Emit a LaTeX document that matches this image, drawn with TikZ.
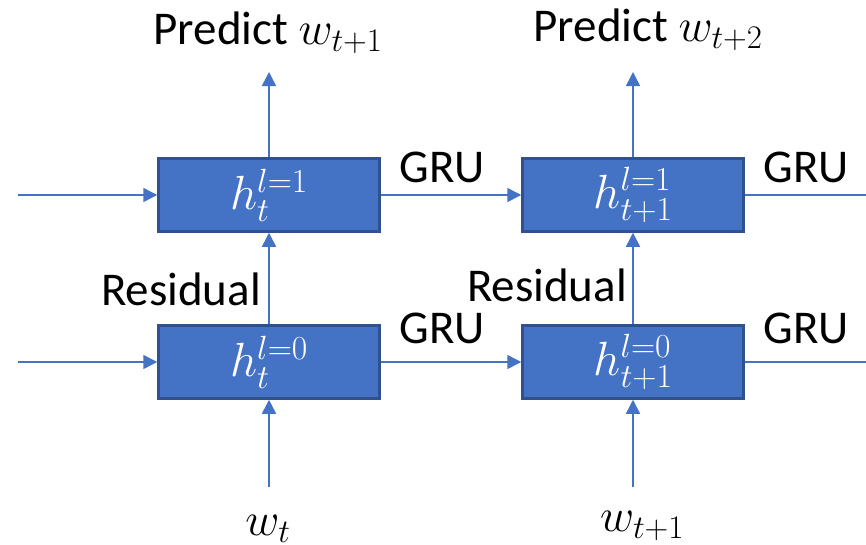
\documentclass[tikz,border=0pt]{standalone}
\usepackage{fix-cm}
\usepackage{fontspec}
\setmainfont{Carlito}
\usetikzlibrary{arrows.meta}
\definecolor{accent}{HTML}{4472C4}
\definecolor{edge}{HTML}{2F528F}
\begin{document}
\begin{tikzpicture}[x=1pt,y=-1pt,
  cell/.style={draw=edge, line width=2.5pt, fill=accent, minimum width=221pt,
    minimum height=73pt, inner sep=0pt, text=white,
    font=\fontsize{48}{54}\selectfont},
  flow/.style={draw=accent, line width=1.5pt, -{Triangle[length=14pt,width=14pt]}},
  plain/.style={draw=accent, line width=1.5pt},
  lbl/.style={font=\fontsize{47}{54}\selectfont, inner sep=0pt, anchor=base}]
\useasboundingbox (0,0) rectangle (866,544);

% hidden-state cells: two layers, two time steps
\node[cell] (a1) at (269,195) {$h_t^{l=1}$};
\node[cell] (a0) at (269,362) {$h_t^{l=0}$};
\node[cell] (b1) at (633,195) {$h_{t+1}^{l=1}$};
\node[cell] (b0) at (633,362) {$h_{t+1}^{l=0}$};

% free ends of the recurrent and vertical connectors
\coordinate (inA1) at (18,195);
\coordinate (inA0) at (18,362);
\coordinate (outB1) at (866,195);
\coordinate (outB0) at (866,362);
\coordinate (inWt) at (269,487);
\coordinate (inWt1) at (633,487);
\coordinate (predA) at (269,72);
\coordinate (predB) at (633,72);

% recurrent connections
\draw[flow] (inA1) -- (a1.west);
\draw[flow] (inA0) -- (a0.west);
\draw[flow] (a1.east) -- (b1.west);
\draw[flow] (a0.east) -- (b0.west);
\draw[plain] (b1.east) -- (outB1);
\draw[plain] (b0.east) -- (outB0);

% inputs, residual links and predictions
\draw[flow] (inWt) -- (a0.south);
\draw[flow] (inWt1) -- (b0.south);
\draw[flow] (a0.north) -- (a1.south);
\draw[flow] (b0.north) -- (b1.south);
\draw[flow] (a1.north) -- (predA);
\draw[flow] (b1.north) -- (predB);

% labels
\node[lbl] (pr1) at (268,44) {Predict $w_{t+1}$};
\node[lbl] (pr2) at (648,41) {Predict $w_{t+2}$};
\node[lbl] (g1) at (442,182) {GRU};
\node[lbl] (g2) at (806,182) {GRU};
\node[lbl] (g3) at (442,343) {GRU};
\node[lbl] (g4) at (806,343) {GRU};
\node[lbl] (r1) at (181,305) {Residual};
\node[lbl] (r2) at (547,301) {Residual};
\node[lbl] (x1) at (268,535) {$w_t$};
\node[lbl] (x2) at (642,531) {$w_{t+1}$};
\end{tikzpicture}
\end{document}
